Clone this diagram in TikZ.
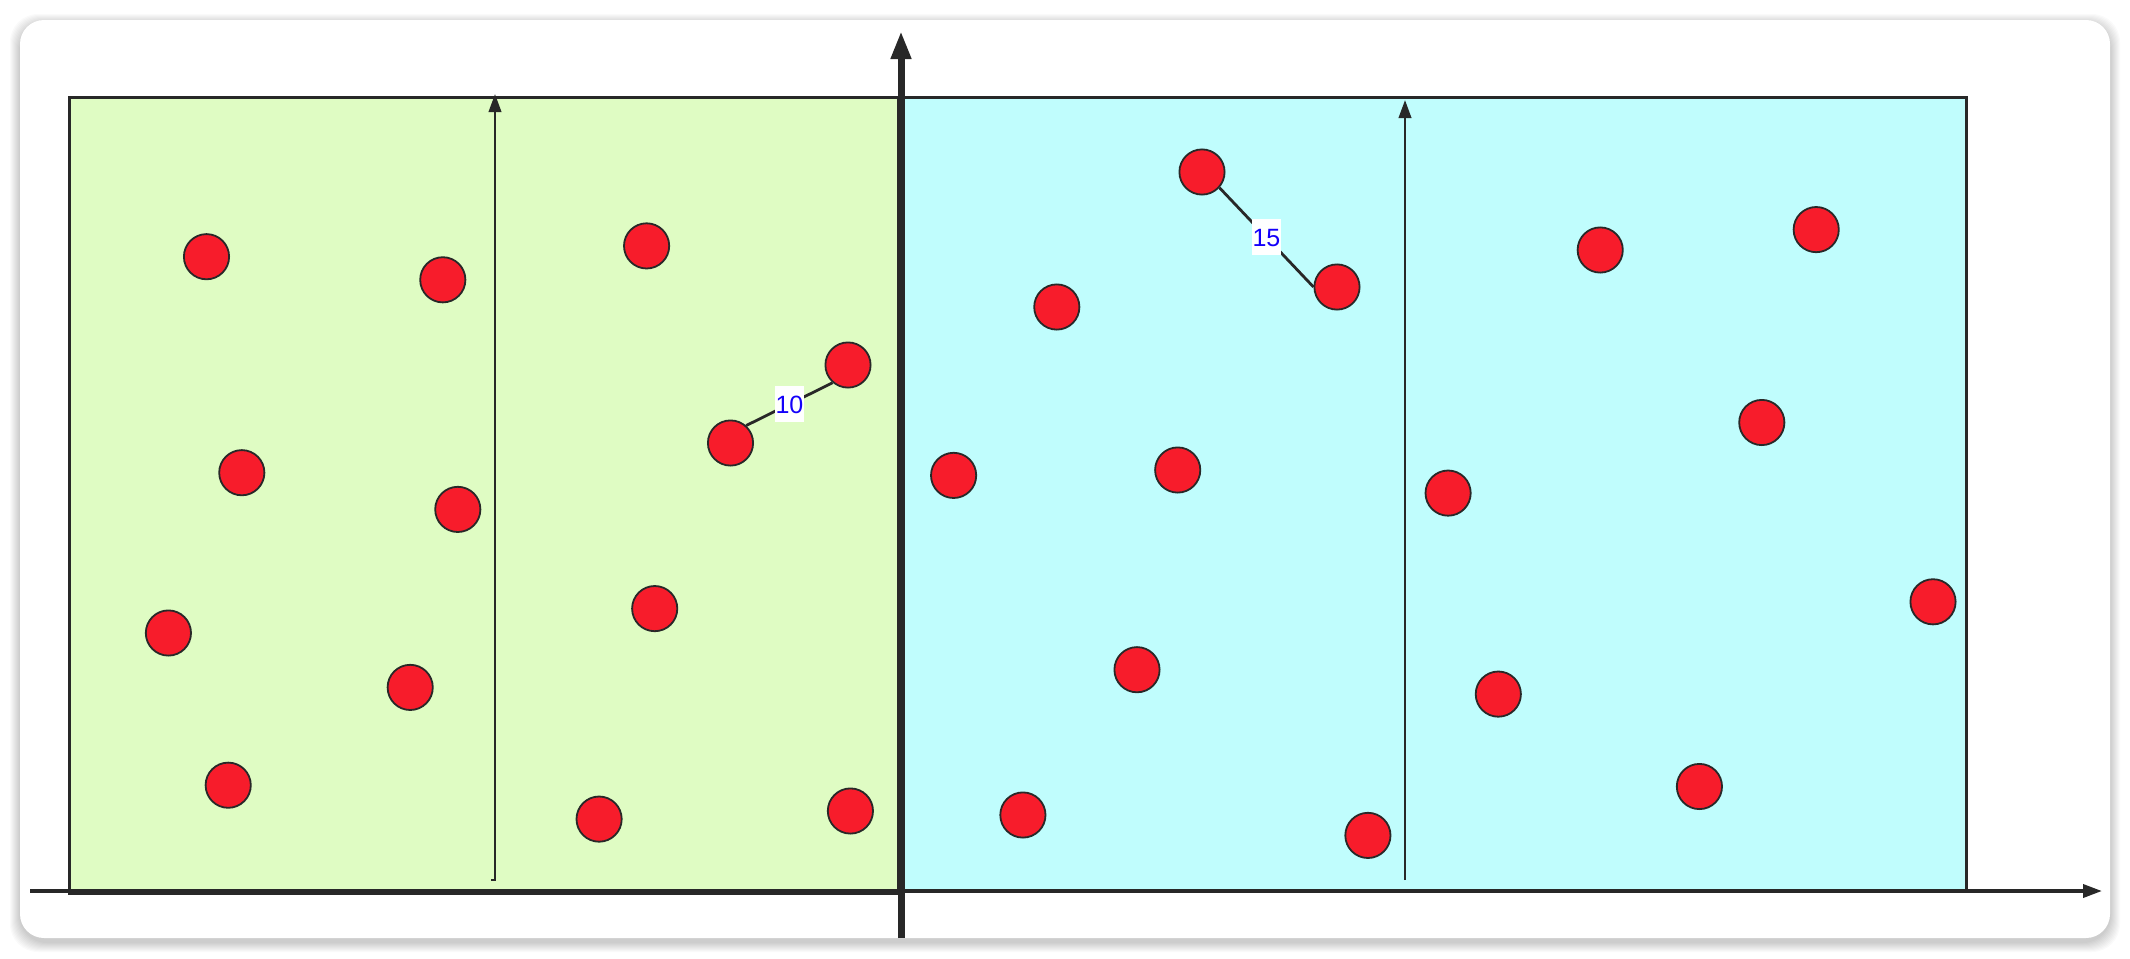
\documentclass[tikz,border=0pt]{standalone}
\usepackage{fontspec}
\setmainfont{Liberation Sans}
\usetikzlibrary{arrows.meta}
\definecolor{greenfill}{RGB}{223,252,195}
\definecolor{bluefill}{RGB}{192,253,253}
\definecolor{dotred}{RGB}{247,28,43}
\definecolor{ink}{RGB}{40,40,40}
\definecolor{labelblue}{RGB}{20,0,250}
\begin{document}
\begin{tikzpicture}[x=0.5pt,y=-0.5pt,
  dot/.style={circle,draw=ink,fill=dotred,line width=0.9pt,minimum size=22.6pt,inner sep=0pt},
  region/.style={draw=ink,line width=1.5pt},
  dist/.style={fill=white,text=labelblue,font=\fontsize{12.5pt}{14pt}\selectfont,inner xsep=0.5pt,inner ysep=4.5pt,text height=9pt,text depth=0pt},
  link/.style={draw=ink,line width=1.4pt},
  mainaxis/.style={draw=ink,line width=1.8pt,-{Triangle[length=9.5pt,width=6.5pt]}},
  vaxis/.style={draw=ink,line width=3.5pt,-{Triangle[length=14pt,width=9.5pt]}},
  innerarrow/.style={draw=ink,line width=1.3pt,-{Triangle[length=9pt,width=6.2pt]}}
]
\path[use as bounding box] (0,0) rectangle (2130,958);
% page and card shadow
\fill[white] (0,0) rectangle (2130,958);
\foreach \i in {1,...,10}{
  \fill[black,opacity=0.018,rounded corners=14] (20-\i,20-\i+4) rectangle (2110+\i,938+\i+4);
}
\fill[white,rounded corners=12] (20,20) rectangle (2110,938);
% regions
\draw[region,fill=greenfill] (69,97) rectangle (898,893);
\draw[region,fill=bluefill] (902,97) rectangle (1966,891);
% axes
\coordinate (xs) at (30,891);
\coordinate (xe) at (2102,891);
\coordinate (ys) at (901,938);
\coordinate (ye) at (901,31);
\draw[mainaxis] (xs) -- (xe);
\draw[vaxis] (ys) -- (ye);
% inner arrows
\coordinate (la0) at (491,880);
\coordinate (la1) at (495,880);
\coordinate (la2) at (495,94);
\draw[innerarrow] (la0) -- (la1) -- (la2);
\coordinate (ra1) at (1405,880);
\coordinate (ra2) at (1405,100);
\draw[innerarrow] (ra1) -- (ra2);
% green dots
\node[dot] (c1) at (206.5,256.7) {};
\node[dot] (c2) at (442.8,279.8) {};
\node[dot] (c3) at (646.6,245.9) {};
\node[dot] (c4) at (848,365) {};
\node[dot] (c5) at (730.5,443) {};
\node[dot] (c6) at (241.8,472.7) {};
\node[dot] (c7) at (457.8,509.4) {};
\node[dot] (c8) at (168.4,633.0) {};
\node[dot] (c9) at (654.7,608.6) {};
\node[dot] (c10) at (410.2,687.4) {};
\node[dot] (c11) at (228.2,785.2) {};
\node[dot] (c12) at (599.1,819.1) {};
\node[dot] (c13) at (850.4,811.0) {};
% blue dots
\node[dot] (c14) at (1202,172) {};
\node[dot] (c15) at (1337,287) {};
\node[dot] (c16) at (1056.8,307) {};
\node[dot] (c17) at (1600.2,250) {};
\node[dot] (c18) at (1816.2,229.6) {};
\node[dot] (c19) at (1761.8,422.5) {};
\node[dot] (c20) at (953.6,475.4) {};
\node[dot] (c21) at (1177.7,470) {};
\node[dot] (c22) at (1448.1,493.1) {};
\node[dot] (c23) at (1933.0,601.8) {};
\node[dot] (c24) at (1137,669.7) {};
\node[dot] (c25) at (1498.3,694.1) {};
\node[dot] (c26) at (1699.4,786.5) {};
\node[dot] (c27) at (1022.9,815) {};
\node[dot] (c28) at (1367.9,835.4) {};
% distance links
\draw[link] (c5.48) -- node[dist] (l10) {10} (c4.229);
\draw[link] (c14.-42) -- node[dist] (l15) {15} (c15.west);
\end{tikzpicture}
\end{document}
